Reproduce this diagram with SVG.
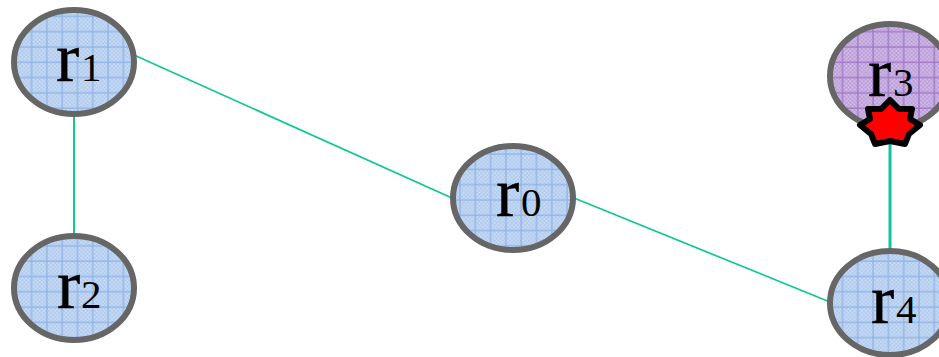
<svg xmlns="http://www.w3.org/2000/svg" width="939" height="357" viewBox="0 0 939 357">
<style>
.c{fill:none;stroke:#0fc795;stroke-width:1.7}
.n{stroke:#666;stroke-width:6}
.b{fill:url(#pb)}
.p{fill:url(#pp)}
.t{font-family:"Liberation Serif",serif;fill:#000;text-anchor:start}
.big{font-size:70px;stroke:#000;stroke-width:.4}
.sm{font-size:41px}
</style>
<defs>
<pattern id="db" width="4" height="4" patternUnits="userSpaceOnUse">
<rect width="4" height="4" fill="#a9c5ec"/>
<path d="M0 0h2v2H0zM2 2h2v2H2z" fill="#cddff5"/>
</pattern>
<pattern id="dp" width="4" height="4" patternUnits="userSpaceOnUse">
<rect width="4" height="4" fill="#b595d6"/>
<path d="M0 0h2v2H0zM2 2h2v2H2z" fill="#d6c2e8"/>
</pattern>
<pattern id="pb" width="15.3" height="15.3" patternUnits="userSpaceOnUse">
<rect width="15.3" height="15.3" fill="url(#db)"/>
<path d="M0 1H15.3M1 0V15.3" stroke="#8db1e4" stroke-width="1.2" fill="none"/>
</pattern>
<pattern id="pp" width="15.3" height="15.3" patternUnits="userSpaceOnUse">
<rect width="15.3" height="15.3" fill="url(#dp)"/>
<path d="M0 1H15.3M1 0V15.3" stroke="#9c72c4" stroke-width="1.2" fill="none"/>
</pattern>
</defs>
<g id="connectors">
<path class="c" d="M134 55L452 198"/>
<path class="c" style="stroke-width:2" d="M74 115V236"/>
<path class="c" d="M574 198L830 302"/>
<path class="c" style="stroke-width:3" d="M890 140V251"/>
</g>
<g id="r1"><ellipse class="n b" cx="74" cy="62" rx="60" ry="52"/><text class="t big" x="56" y="81">r</text><text class="t sm" x="81" y="81">1</text></g>
<g id="r2"><ellipse class="n b" cx="74" cy="288" rx="60" ry="52"/><text class="t big" x="57" y="308">r</text><text class="t sm" x="81" y="308">2</text></g>
<g id="r0"><ellipse class="n b" cx="513" cy="198" rx="60" ry="52"/><text class="t big" x="496" y="216">r</text><text class="t sm" x="521" y="216">0</text></g>
<g id="r3"><ellipse class="n p" cx="890" cy="76" rx="60" ry="52"/><text class="t big" x="868" y="96">r</text><text class="t sm" x="893" y="96">3</text></g>
<g id="r4"><ellipse class="n b" cx="890" cy="303" rx="60" ry="52"/><text class="t big" x="871" y="323">r</text><text class="t sm" x="896" y="323">4</text></g>
<g id="fault"><polygon points="890,100 899,109 912,109 910,119 920,125 909,134 905,144 890,141 875,144 871,134 860,125 870,119 868,109 881,109" fill="#f00" stroke="#000" stroke-width="6" stroke-linejoin="round"/></g>
</svg>
